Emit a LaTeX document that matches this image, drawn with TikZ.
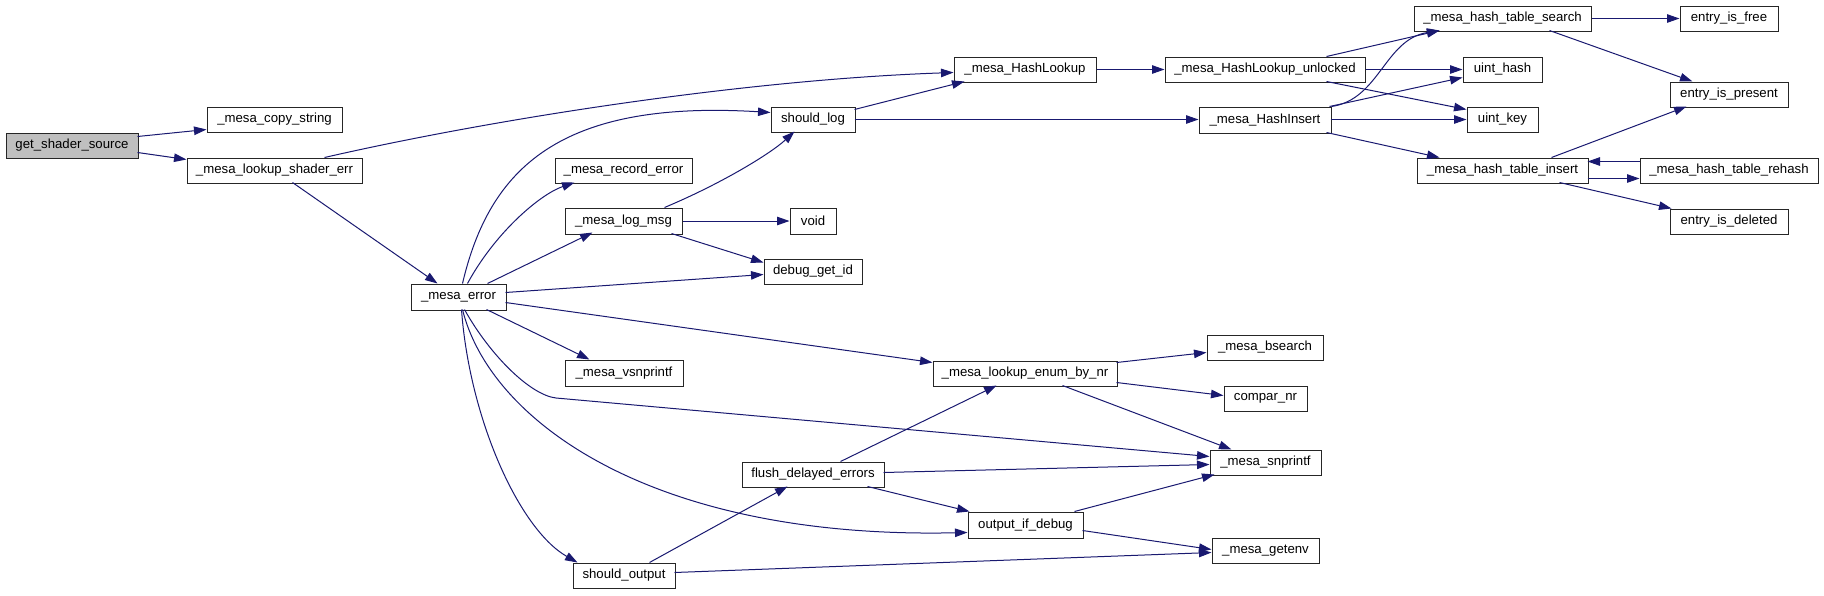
\documentclass[tikz,border=0pt]{standalone}
\usepackage{fontspec}
\setmainfont{Liberation Sans}
\usetikzlibrary{arrows.meta}
\definecolor{edgecol}{HTML}{191970}
\definecolor{rootfill}{HTML}{BFBFBF}
\tikzset{
  fn/.style={draw=black!85, line width=1pt, fill=white, inner sep=0pt,
             font=\fontsize{13.2}{15}\selectfont},
  rootfn/.style={fn, fill=rootfill},
  call/.style={draw=edgecol, line width=1pt, -{Triangle[length=12.5pt,width=8.5pt]}},
}
\newcommand{\fnbox}[7][fn]{%
  \node[#1, minimum width={(#5-#3)*1pt}, minimum height={(#6-#4)*1pt}]
    (#2) at ({(#3+#5)/2},{(#4+#6)/2}) {#7};}
\begin{document}
\begin{tikzpicture}[x=1pt,y=-1pt]
\useasboundingbox (0,0) rectangle (1824,595);
\fnbox[rootfn]{gss}{6}{133}{138}{158}{get\_shader\_source}
\fnbox{copy}{207}{107}{342}{132}{\_mesa\_copy\_string}
\fnbox{lse}{187}{158}{362}{183}{\_mesa\_lookup\_shader\_err}
\fnbox{err}{411}{284}{506}{310}{\_mesa\_error}
\fnbox{slog}{771}{107}{855}{132}{should\_log}
\fnbox{rec}{555}{158}{692}{183}{\_mesa\_record\_error}
\fnbox{logm}{565}{208}{682}{234}{\_mesa\_log\_msg}
\fnbox{void}{790}{208}{836}{234}{void}
\fnbox{dbg}{764}{259}{862}{284}{debug\_get\_id}
\fnbox{vsn}{565}{360}{683}{386}{\_mesa\_vsnprintf}
\fnbox{flush}{742}{462}{884}{487}{flush\_delayed\_errors}
\fnbox{sout}{573}{563}{675}{588}{should\_output}
\fnbox{hl}{954}{57}{1096}{82}{\_mesa\_HashLookup}
\fnbox{hlu}{1165}{57}{1365}{82}{\_mesa\_HashLookup\_unlocked}
\fnbox{hins}{1199}{107}{1331}{133}{\_mesa\_HashInsert}
\fnbox{hts}{1414}{6}{1591}{31}{\_mesa\_hash\_table\_search}
\fnbox{free}{1680}{6}{1778}{31}{entry\_is\_free}
\fnbox{uhash}{1463}{57}{1542}{82}{uint\_hash}
\fnbox{ukey}{1467}{107}{1538}{132}{uint\_key}
\fnbox{pres}{1670}{82}{1788}{107}{entry\_is\_present}
\fnbox{hti}{1417}{158}{1588}{183}{\_mesa\_hash\_table\_insert}
\fnbox{reh}{1640}{158}{1818}{183}{\_mesa\_hash\_table\_rehash}
\fnbox{del}{1670}{209}{1788}{234}{entry\_is\_deleted}
\fnbox{enum}{933}{361}{1117}{386}{\_mesa\_lookup\_enum\_by\_nr}
\fnbox{bs}{1207}{335}{1323}{360}{\_mesa\_bsearch}
\fnbox{cmp}{1224}{386}{1307}{411}{compar\_nr}
\fnbox{snp}{1210}{450}{1321}{475}{\_mesa\_snprintf}
\fnbox{oid}{968}{512}{1083}{538}{output\_if\_debug}
\fnbox{env}{1212}{538}{1319}{563}{\_mesa\_getenv}
\coordinate (b25) at (556,398);
% edges
\draw[call] ([shift={(132,4)}]gss.north west) -- ([shift={(0,23)}]copy.north west);
\draw[call] ([shift={(132,20)}]gss.north west) -- ([shift={(0,2)}]lse.north west);
\draw[call] ([shift={(138,0)}]lse.north west) .. controls +(175,-40) and +(-204,7) .. ([shift={(0,16)}]hl.north west);
\draw[call] ([shift={(106,25)}]lse.north west) -- ([shift={(27,0)}]err.north west);
\draw[call] (hl.east) -- (hlu.west);
\draw[call] ([shift={(162,0)}]hlu.north west) -- ([shift={(26,25)}]hts.north west);
\draw[call] (hlu.east) -- (uhash.west);
\draw[call] ([shift={(162,25)}]hlu.north west) -- ([shift={(0,3)}]ukey.north west);
\draw[call] ([shift={(133,0)}]hins.north west) .. controls +(48,-7) and +(-55,9) .. ([shift={(26,25)}]hts.north west);
\draw[call] ([shift={(131,0)}]hins.north west) -- ([shift={(0,21)}]uhash.north west);
\draw[call] ([shift={(132,13)}]hins.north west) -- ([shift={(0,13)}]ukey.north west);
\draw[call] ([shift={(128,26)}]hins.north west) -- ([shift={(23,0)}]hti.north west);
\draw[call] (hts.east) -- (free.west);
\draw[call] ([shift={(136,25)}]hts.north west) -- ([shift={(23,0)}]pres.north west);
\draw[call] ([shift={(135,0)}]hti.north west) -- ([shift={(17,25)}]pres.north west);
\draw[call] ([shift={(171,21)}]hti.north west) -- ([shift={(0,21)}]reh.north west);
\draw[call] ([shift={(0,4)}]reh.north west) -- ([shift={(171,4)}]hti.north west);
\draw[call] ([shift={(143,25)}]hti.north west) -- ([shift={(2,0)}]del.north west);
\draw[call] ([shift={(52,0)}]err.north west) .. controls +(27,-115) and +(-211,-13) .. ([shift={(0,6)}]slog.north west);
\draw[call] ([shift={(57,0)}]err.north west) .. controls +(27,-50) and +(-35,12) .. ([shift={(20,25)}]rec.north west);
\draw[call] ([shift={(77,0)}]err.north west) -- ([shift={(28,25)}]logm.north west);
\draw[call] ([shift={(95,9)}]err.north west) -- ([shift={(0,16)}]dbg.north west);
\draw[call] ([shift={(76,26)}]err.north west) -- ([shift={(25,0)}]vsn.north west);
\draw[call] ([shift={(95,19)}]err.north west) -- ([shift={(0,2)}]enum.north west);
\draw[call] ([shift={(54,26)}]err.north west) .. controls +(25,45) and +(-26,-3) .. (b25) -- ([shift={(0,7)}]snp.north west);
\draw[call] ([shift={(52,26)}]err.north west) .. controls +(27,110) and +(-318,7) .. ([shift={(0,21)}]oid.north west);
\draw[call] ([shift={(51,26)}]err.north west) .. controls +(8,110) and +(-58,-33) .. ([shift={(5,0)}]sout.north west);
\draw[call] ([shift={(84,3)}]slog.north west) -- ([shift={(11,25)}]hl.north west);
\draw[call] ([shift={(84,13)}]slog.north west) -- ([shift={(0,13)}]hins.north west);
\draw[call] ([shift={(100,0)}]logm.north west) .. controls +(55,-23) and +(-25,23) .. ([shift={(24,25)}]slog.north west);
\draw[call] (logm.east) -- (void.west);
\draw[call] ([shift={(107,26)}]logm.north west) -- ([shift={(0,4)}]dbg.north west);
\draw[call] ([shift={(184,2)}]enum.north west) -- ([shift={(0,18)}]bs.north west);
\draw[call] ([shift={(184,22)}]enum.north west) -- ([shift={(0,10)}]cmp.north west);
\draw[call] ([shift={(130,25)}]enum.north west) -- ([shift={(22,0)}]snp.north west);
\draw[call] ([shift={(99,0)}]flush.north west) -- ([shift={(64,25)}]enum.north west);
\draw[call] ([shift={(142,11)}]flush.north west) -- ([shift={(0,15)}]snp.north west);
\draw[call] ([shift={(126,25)}]flush.north west) -- ([shift={(2,0)}]oid.north west);
\draw[call] ([shift={(107,0)}]oid.north west) -- ([shift={(5,25)}]snp.north west);
\draw[call] ([shift={(115,19)}]oid.north west) -- ([shift={(0,12)}]env.north west);
\draw[call] ([shift={(77,0)}]sout.north west) -- ([shift={(46,25)}]flush.north west);
\draw[call] ([shift={(102,10)}]sout.north west) -- ([shift={(0,15)}]env.north west);
\end{tikzpicture}
\end{document}
